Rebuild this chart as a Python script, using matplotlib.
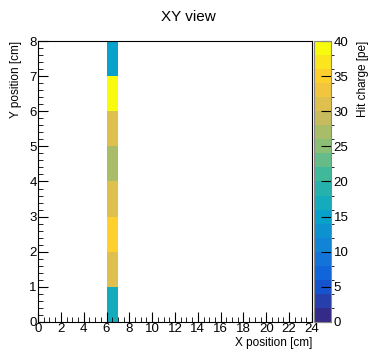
import numpy as np
import matplotlib
matplotlib.use("Agg")
from matplotlib import pyplot as plt
from matplotlib.colors import LinearSegmentedColormap, BoundaryNorm
from matplotlib.ticker import MultipleLocator

plt.rcParams['font.family'] = ['Liberation Sans', 'DejaVu Sans']

# histogram binning (1 cm bins)
x_edges = np.arange(0, 25, 1)
y_edges = np.arange(0, 9, 1)

# only one column has hits: x bin 6..7, y bins 0..7 (bottom to top)
hit_x_bin = 6
hit_charge = [17, 31, 35, 31, 27, 31, 40, 14]

# ROOT kBird palette
bird_r = [0.2082, 0.0592, 0.0780, 0.0232, 0.1802, 0.5301, 0.8186, 0.9956, 0.9764]
bird_g = [0.1664, 0.3599, 0.5041, 0.6419, 0.7178, 0.7492, 0.7328, 0.7862, 0.9832]
bird_b = [0.5293, 0.8684, 0.8385, 0.7914, 0.6425, 0.4662, 0.3499, 0.1968, 0.0539]
stops = np.linspace(0, 1, 9)
bird = LinearSegmentedColormap.from_list(
    "bird", list(zip(stops, zip(bird_r, bird_g, bird_b))), N=256)

zmin, zmax, ncont = 0, 40, 20
levels = np.linspace(zmin, zmax, ncont + 1)
norm = BoundaryNorm(levels, bird.N)

grid = np.zeros((len(y_edges) - 1, len(x_edges) - 1))
for iy, q in enumerate(hit_charge):
    grid[iy, hit_x_bin] = q
grid = np.ma.masked_where(grid <= 0, grid)

fig = plt.figure(figsize=(3.69, 3.49), dpi=100)
ax = fig.add_axes([0.103, 0.0774, 0.7425, 0.8051])
cax = fig.add_axes([0.851, 0.0774, 0.046, 0.8051])

mesh = ax.pcolormesh(x_edges, y_edges, grid, cmap=bird, norm=norm)

ax.set_xlim(0, 24)
ax.set_ylim(0, 8)
ax.xaxis.set_major_locator(MultipleLocator(2))
ax.xaxis.set_minor_locator(MultipleLocator(0.5))
ax.yaxis.set_major_locator(MultipleLocator(1))
ax.yaxis.set_minor_locator(MultipleLocator(0.2))
ax.tick_params(which='both', direction='in', labelsize=9.5, pad=1)
ax.tick_params(which='major', length=7)
ax.tick_params(which='minor', length=3.5)
for s in ax.spines.values():
    s.set_linewidth(0.8)

ax.set_xlabel("X position [cm]", fontsize=8.5, loc='right', labelpad=1)
ax.set_ylabel("Y position [cm]", fontsize=8.5, loc='top', labelpad=5)
fig.text(0.51, 0.952, "XY view", ha='center', va='center', fontsize=11)

cb = fig.colorbar(mesh, cax=cax, ticks=np.arange(0, 41, 5))
cb.outline.set_edgecolor('#888888')
cax.tick_params(direction='in', length=7, labelsize=9.5, pad=2)
cax.set_ylabel("Hit charge [pe]", fontsize=8.5, loc='top', labelpad=6)

fig.savefig("out.png", dpi=100)
